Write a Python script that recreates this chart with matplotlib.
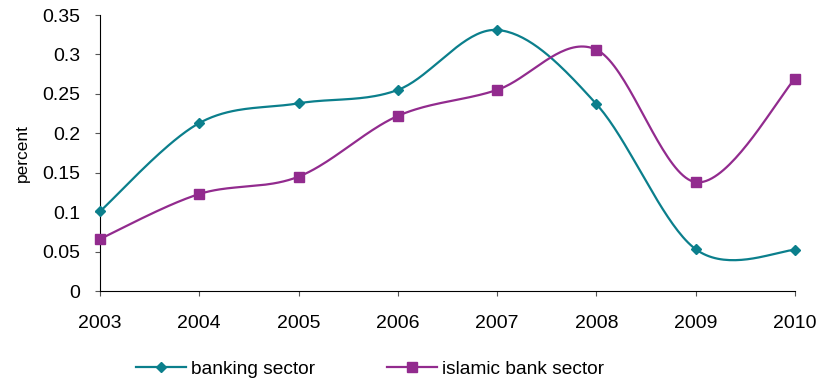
import numpy as np
import matplotlib.pyplot as plt

plt.rcParams["font.family"] = ["Liberation Sans", "DejaVu Sans"]

years = [2003, 2004, 2005, 2006, 2007, 2008, 2009, 2010]
banking = [0.101, 0.213, 0.238, 0.255, 0.331, 0.237, 0.053, 0.052]
islamic = [0.066, 0.123, 0.145, 0.222, 0.255, 0.306, 0.138, 0.269]

TEAL = "#0b7f8c"
PURPLE = "#922b8e"


def smooth(xs, ys, n=40):
    # spreadsheet-style smoothed line: cubic Bezier segments, Catmull-Rom controls
    p = np.column_stack([xs, ys]).astype(float)
    p = np.vstack([p[0], p, p[-1]])
    out = []
    t = np.linspace(0, 1, n)[:, None]
    for i in range(1, len(p) - 2):
        p0, p1, p2, p3 = p[i - 1], p[i], p[i + 1], p[i + 2]
        b1 = p1 + (p2 - p0) / 6
        b2 = p2 - (p3 - p1) / 6
        seg = ((1 - t) ** 3) * p1 + 3 * ((1 - t) ** 2) * t * b1 \
            + 3 * (1 - t) * t ** 2 * b2 + t ** 3 * p2
        out.append(seg if i == 1 else seg[1:])
    out = np.vstack(out)
    return out[:, 0], out[:, 1]


fig = plt.figure(figsize=(8.18, 3.85), dpi=100)
ax = fig.add_axes([100 / 818, 1 - 291 / 385, 695 / 818, 276 / 385])

for vals, color, marker, ms, label in [
    (banking, TEAL, "D", 5, "banking sector"),
    (islamic, PURPLE, "s", 6.5, "islamic bank sector"),
]:
    sx, sy = smooth(years, vals)
    ax.plot(sx, sy, color=color, lw=1.6, clip_on=False, zorder=3)
    ax.plot(years, vals, ls="none", marker=marker, ms=ms, color=color,
            clip_on=False, zorder=4)
    ax.plot([], [], color=color, lw=1.6, marker=marker, ms=ms, label=label)

ax.set_xlim(2003, 2010)
ax.set_ylim(0, 0.35)
ax.set_xticks(years)
ax.set_xticklabels([str(y) for y in years])
yt = np.arange(0, 0.351, 0.05)
ax.set_yticks(yt)
ax.set_yticklabels(["%g" % round(v, 2) for v in yt])
ax.tick_params(axis="both", length=3.6, color="#555555", labelsize=14)
ax.tick_params(axis="y", pad=10.5)
ax.tick_params(axis="x", pad=13.5)
ax.spines["top"].set_visible(False)
ax.spines["right"].set_visible(False)
ax.set_ylabel("percent", fontsize=12.5, labelpad=9)

fig.legend(loc="center", bbox_to_anchor=(370 / 818, 1 - 369 / 385), ncol=2,
           frameon=False, fontsize=13.8, handlelength=2.6, handletextpad=0.26,
           columnspacing=3.75)

fig.savefig("out.png", dpi=100)
